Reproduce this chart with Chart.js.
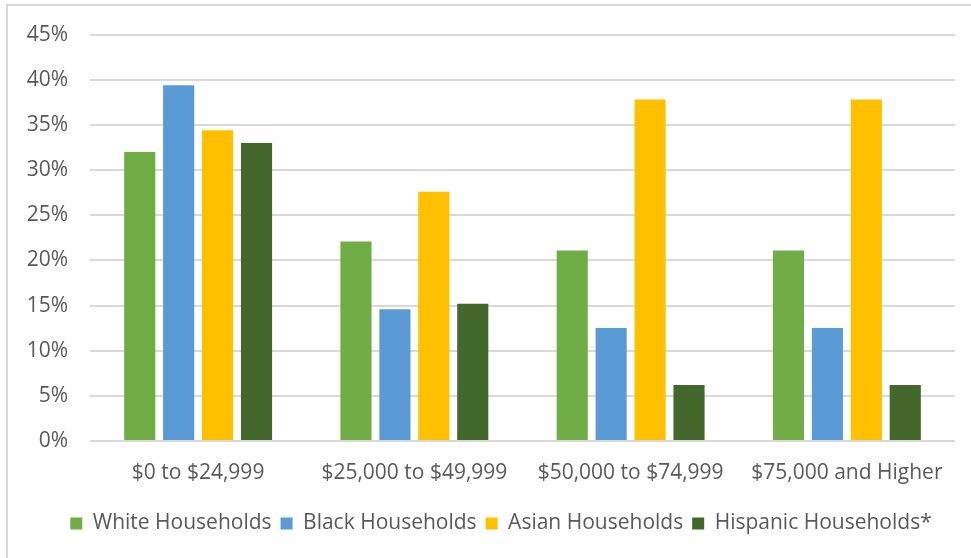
<!DOCTYPE html>
<html>
<head>
<meta charset="utf-8">
<script src="https://cdn.jsdelivr.net/npm/chart.js@4/dist/chart.umd.min.js"></script>
<style>
  html, body { margin: 0; padding: 0; background: #ffffff; }
  canvas { display: block; }
</style>
</head>
<body>
<canvas id="chartIngresos" width="971" height="558"></canvas>
<script>
// categorías de ingreso y porcentaje de hogares por grupo
const categorias = ['$0 to $24,999', '$25,000 to $49,999', '$50,000 to $74,999', '$75,000 and Higher'];
const white    = [32.0, 22.1, 21.1, 21.1];
const black    = [39.4, 14.6, 12.5, 12.5];
const asian    = [34.4, 27.6, 37.8, 37.8];
const hispanic = [33.0, 15.2, 6.2, 6.2];
const yTicks   = [0, 5, 10, 15, 20, 25, 30, 35, 40, 45];

const textColor = '#595959';
const fontFamily = "'Open Sans', 'Noto Sans', sans-serif";

// marco gris arriba y a la izquierda
const marco = {
    id: 'marco',
    beforeDraw(chart) {
        const c = chart.ctx;
        c.save();
        c.fillStyle = '#ffffff';
        c.fillRect(0, 0, chart.width, chart.height);
        c.strokeStyle = '#d9d9d9';
        c.lineWidth = 2;
        c.beginPath();
        c.moveTo(7, chart.height);
        c.lineTo(7, 5);
        c.lineTo(chart.width, 5);
        c.stroke();
        c.restore();
    }
};

// la leyenda va centrada un poco más a la derecha que el lienzo
const moverLeyenda = {
    id: 'moverLeyenda',
    afterLayout(chart) {
        if (chart.legend) {
            chart.legend.left += 47;
        }
    }
};

const ctx = document.getElementById('chartIngresos');

new Chart(ctx, {
    type: 'bar',
    data: {
        labels: categorias,
        datasets: [
            { label: 'White Households', data: white, backgroundColor: '#70AD47' },
            { label: 'Black Households', data: black, backgroundColor: '#5B9BD5' },
            { label: 'Asian Households', data: asian, backgroundColor: '#FFC000' },
            { label: 'Hispanic Households*', data: hispanic, backgroundColor: '#43682B' }
        ]
    },
    options: {
        responsive: false,
        animation: false,
        devicePixelRatio: 1,
        categoryPercentage: 0.72,
        barPercentage: 0.8,
        layout: {
            padding: { left: 0, top: 34, right: 16, bottom: 14 }
        },
        plugins: {
            legend: {
                position: 'bottom',
                labels: {
                    boxWidth: 12,
                    boxHeight: 12,
                    padding: 9,
                    color: textColor,
                    font: { family: fontFamily, size: 21 }
                }
            },
            tooltip: { enabled: false }
        },
        scales: {
            x: {
                grid: { display: false },
                border: { display: false },
                ticks: {
                    padding: 11,
                    color: textColor,
                    font: { family: fontFamily, size: 21 }
                },
                afterFit: function(scale) { scale.height = 63; }
            },
            y: {
                min: 0,
                max: 45,
                afterBuildTicks: function(scale) {
                    scale.ticks = yTicks.map(v => ({ value: v }));
                },
                grid: { color: '#d9d9d9', lineWidth: 2, drawTicks: false },
                border: { display: false },
                ticks: {
                    padding: 22,
                    color: textColor,
                    font: { family: fontFamily, size: 21 },
                    callback: function(v) { return v + '%'; }
                },
                afterFit: function(scale) { scale.width = 90; }
            }
        }
    },
    plugins: [marco, moverLeyenda]
});
</script>
</body>
</html>
